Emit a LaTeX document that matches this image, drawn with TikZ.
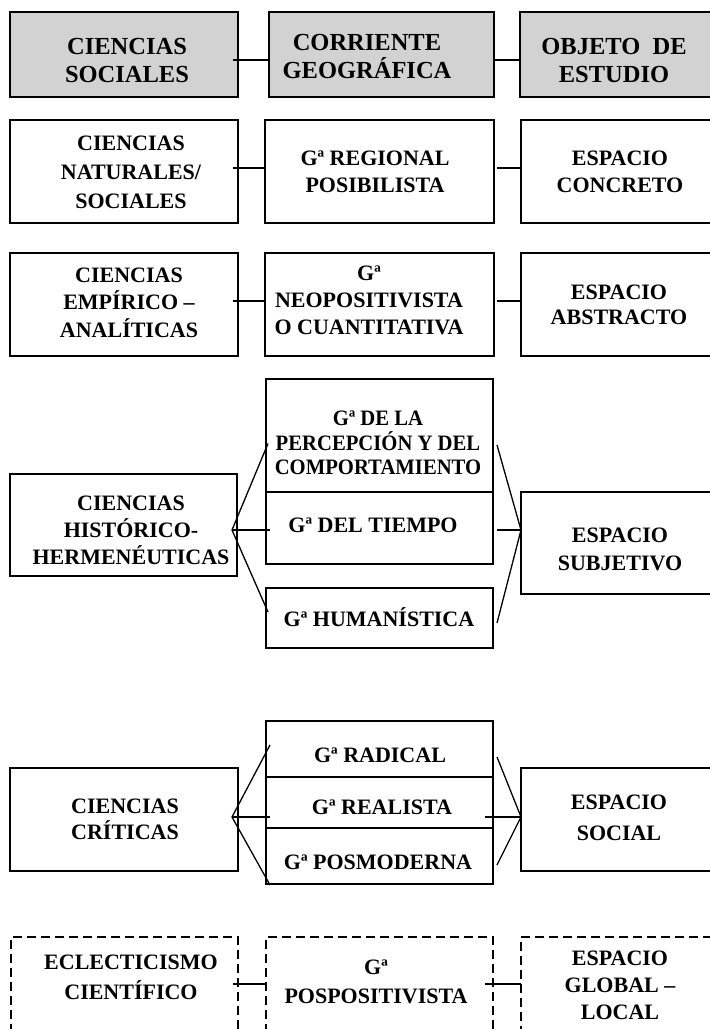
\documentclass[tikz,border=0pt]{standalone}
\usepackage{fontspec}
\setmainfont{Liberation Serif}
\newfontfamily\condfont[FakeStretch=0.94]{Liberation Serif}
\definecolor{hdr}{RGB}{210,210,210}
\newcommand\fsz[2]{\fontsize{#1}{#2}\selectfont}
\newcommand\mybox[6]{\node[box,#6,minimum width={(#4-#2)*1pt},minimum height={(#5-#3)*1pt}] (#1) at (#2,#3) {};}
\begin{document}
\begin{tikzpicture}[x=1pt,y=-1pt,
  box/.style={draw=black,line width=1.3pt,rectangle,inner sep=0pt,outer sep=0pt,anchor=north west},
  head/.style={fill=hdr},
  plain/.style={},
  dsh/.style={dash pattern=on 9pt off 5pt},
  txt/.style={align=center,inner sep=0pt,font=\bfseries\fsz{22}{27}},
  htxt/.style={align=center,inner sep=0pt,font=\bfseries\fsz{24.5}{28}},
  conn/.style={draw=black,line width=1.3pt}]
\useasboundingbox (0,0) rectangle (710,1029);
\clip (0,0) rectangle (710,1029);

% ---------- row 1 (header)
\mybox{L1}{10}{12}{238}{97}{head}
\mybox{M1}{269}{12}{494}{97}{head}
\mybox{R1}{520}{12}{740}{97}{head}
\node[htxt] (t1a) at (127,61) {CIENCIAS\\SOCIALES};
\node[htxt] (t1b) at (367,57) {CORRIENTE\\GEOGRÁFICA};
\node[htxt] (t1c) at (614,61) {OBJETO\ \ DE\\ESTUDIO};
\draw[conn] ([xshift=-5pt,yshift=-5.5pt]L1.east) -- ([yshift=-5.5pt]M1.west);
\draw[conn] ([yshift=-5.5pt]M1.east) -- ([yshift=-5.5pt]R1.west);

% ---------- row 2
\mybox{L2}{10}{120}{238}{223}{plain}
\mybox{M2}{265}{120}{494}{223}{plain}
\mybox{R2}{521}{120}{740}{223}{plain}
\node[txt,font=\bfseries\fsz{22}{29}] (t2a) at (131,172) {CIENCIAS\\NATURALES/\\SOCIALES};
\node[txt] (t2b) at (375,171.5) {Gª REGIONAL\\POSIBILISTA};
\node[txt] (t2c) at (620,171.5) {ESPACIO\\CONCRETO};
\draw[conn] ([xshift=-5pt,yshift=3.5pt]L2.east) -- ([yshift=3.5pt]M2.west);
\draw[conn] ([xshift=3pt,yshift=3.5pt]M2.east) -- ([yshift=3.5pt]R2.west);

% ---------- row 3
\mybox{L3}{10}{253}{238}{356}{plain}
\mybox{M3}{265}{253}{494}{356}{plain}
\mybox{R3}{521}{253}{740}{356}{plain}
\node[txt,font=\bfseries\fsz{22}{27.5}] (t3a) at (129,302.5) {CIENCIAS\\EMPÍRICO –\\ANALÍTICAS};
\node[txt] (t3b) at (369,300) {Gª\\NEOPOSITIVISTA\\O CUANTITATIVA};
\node[txt,font=\bfseries\fsz{22}{25}] (t3c) at (619,304.5) {ESPACIO\\ABSTRACTO};
\draw[conn] ([xshift=-5pt,yshift=3.5pt]L3.east) -- ([yshift=3.5pt]M3.west);
\draw[conn] ([xshift=3pt,yshift=3.5pt]M3.east) -- ([yshift=3.5pt]R3.west);

% ---------- row 4
\mybox{L4}{10}{474}{237}{576}{plain}
\mybox{T4}{266}{379}{493}{492}{plain}
\mybox{M4}{266}{492}{493}{564}{plain}
\mybox{B4}{266}{588}{493}{648}{plain}
\mybox{R4}{521}{492}{740}{594}{plain}
\node[txt] (t4a) at (131,530) {CIENCIAS\\HISTÓRICO-\\HERMENÉUTICAS};
\node[txt,font=\condfont\bfseries\fsz{22}{24.5}] (t4b) at (378,443) {Gª DE LA\\PERCEPCIÓN Y DEL\\COMPORTAMIENTO};
\node[txt] (t4c) at (373,525) {Gª DEL TIEMPO};
\node[txt] (t4d) at (379,617) {Gª HUMANÍSTICA};
\node[txt,font=\bfseries\fsz{22}{28}] (t4e) at (620,549) {ESPACIO\\SUBJETIVO};
\coordinate (a4) at ([xshift=-5pt,yshift=-5pt]L4.east);
\coordinate (p4a) at ([xshift=2pt,yshift=-8pt]T4.west);
\coordinate (p4b) at ([xshift=4pt,yshift=-2pt]M4.west);
\coordinate (p4c) at ([xshift=2pt,yshift=6pt]B4.west);
\coordinate (q4a) at ([xshift=4pt,yshift=-9.5pt]T4.east);
\coordinate (q4b) at ([xshift=4pt,yshift=-2pt]M4.east);
\coordinate (q4c) at ([xshift=4pt,yshift=-5pt]B4.east);
\coordinate (b4) at ([yshift=13pt]R4.west);
\draw[conn] (p4a) -- (a4) -- (p4c);
\draw[conn] (a4) -- (p4b);
\draw[conn] (q4a) -- (b4) -- (q4c);
\draw[conn] (q4b) -- (b4);

% ---------- row 5
\mybox{L5}{10}{768}{238}{871}{plain}
\mybox{T5}{266}{721}{493}{777}{plain}
\mybox{M5}{266}{777}{493}{828}{plain}
\mybox{B5}{266}{828}{493}{884}{plain}
\mybox{R5}{521}{768}{740}{871}{plain}
\node[txt,font=\bfseries\fsz{22}{26}] (t5a) at (125,819.5) {CIENCIAS\\CRÍTICAS};
\node[txt] (t5b) at (380,755) {Gª RADICAL};
\node[txt] (t5c) at (382,807) {Gª REALISTA};
\node[txt] (t5d) at (378,862) {Gª POSMODERNA};
\node[txt,font=\bfseries\fsz{22}{31}] (t5e) at (619,817.5) {ESPACIO\\SOCIAL};
\coordinate (a5) at ([xshift=-6pt,yshift=2.5pt]L5.east);
\coordinate (p5a) at ([xshift=4pt,yshift=4pt]T5.west);
\coordinate (p5b) at ([xshift=4pt,yshift=-14.5pt]M5.west);
\coordinate (p5c) at ([xshift=4pt,yshift=-29pt]B5.west);
\coordinate (q5a) at ([xshift=4pt,yshift=-8pt]T5.east);
\coordinate (q5b) at ([xshift=-8pt,yshift=-14.5pt]M5.east);
\coordinate (q5c) at ([xshift=4pt,yshift=-9pt]B5.east);
\coordinate (b5) at ([yshift=2.5pt]R5.west);
\draw[conn] (p5a) -- (a5) -- (p5c);
\draw[conn] (a5) -- (p5b);
\draw[conn] (q5a) -- (b5) -- (q5c);
\draw[conn] (q5b) -- (b5);

% ---------- row 6 (dashed)
\mybox{L6}{11}{937}{238}{1040}{dsh}
\mybox{M6}{266}{937}{493}{1040}{dsh}
\mybox{R6}{521}{937}{740}{1040}{dsh}
\node[txt,font=\bfseries\fsz{22}{30}] (t6a) at (131,977) {ECLECTICISMO\\CIENTÍFICO};
\node[txt,font=\bfseries\fsz{22}{29}] (t6b) at (376,982) {Gª\\POSPOSITIVISTA};
\node[txt] (t6c) at (620,985) {ESPACIO\\GLOBAL –\\LOCAL};
\draw[conn] ([xshift=-5pt,yshift=4.5pt]L6.east) -- ([yshift=4.5pt]M6.west);
\draw[conn] ([xshift=-8pt,yshift=4.5pt]M6.east) -- ([yshift=4.5pt]R6.west);
\end{tikzpicture}
\end{document}
